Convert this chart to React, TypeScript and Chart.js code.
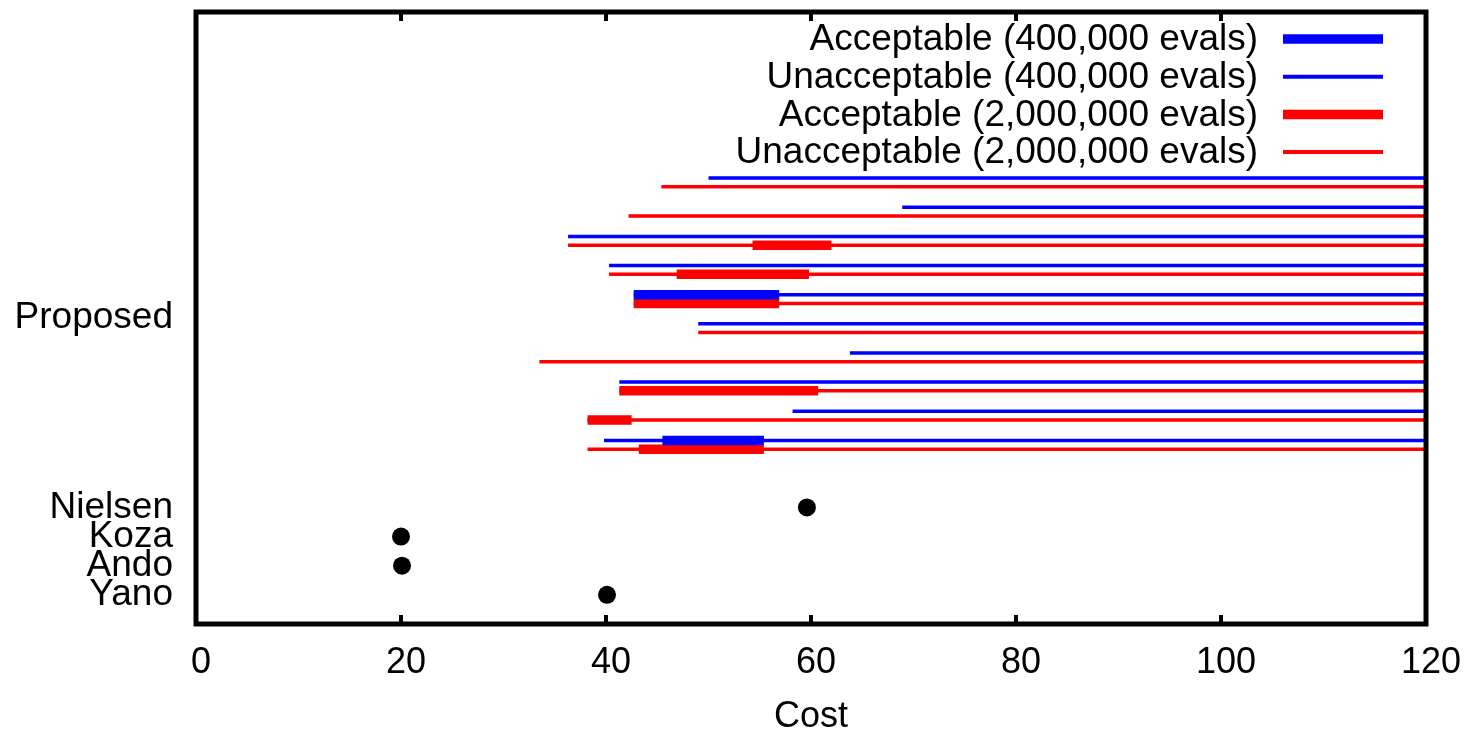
import React, { useEffect, useRef } from "react";
import { Chart, registerables } from "chart.js";

Chart.register(...registerables);

// ---- axis ranges & ticks ----
const xMin = 0;
const xMax = 120;
const xTickStep = 20;
const yMin = 0;
const yMax = 21;

// ---- reference methods (single points) ----
const referenceNames = ["Yano", "Ando", "Koza", "Nielsen"];
const referencePositions = [1, 2, 3, 4];
const referenceCosts = [40.1, 20.1, 20.0, 59.6];

// ---- proposed method: 10 runs, top to bottom ----
const proposedLabel = "Proposed";
const proposedLabelPosition = 10.5;
const runPositions = [15, 14, 13, 12, 11, 10, 9, 8, 7, 6];
const blueRowOffset = 0.3;
const unacceptableEnd = 120;

// 400,000 evals (blue)
const blueStart = [50.0, 68.9, 36.3, 40.3, 42.7, 49.0, 63.8, 41.3, 58.2, 39.8];
const blueAccLo = [null, null, null, null, 42.7, null, null, null, null, 45.5];
const blueAccHi = [null, null, null, null, 56.9, null, null, null, null, 55.4];

// 2,000,000 evals (red)
const redStart = [45.4, 42.2, 36.3, 40.3, 42.7, 49.0, 33.5, 41.3, 38.2, 38.2];
const redAccLo = [null, null, 54.3, 46.9, 42.7, null, null, 41.3, 38.2, 43.2];
const redAccHi = [null, null, 62.0, 59.8, 56.9, null, null, 60.7, 42.5, 55.4];

const legendLabels = [
  "Acceptable (400,000 evals)",
  "Unacceptable (400,000 evals)",
  "Acceptable (2,000,000 evals)",
  "Unacceptable (2,000,000 evals)",
];
const legendColors = ["#0000ff", "#0000ff", "#ff0000", "#ff0000"];
const legendThick = [true, false, true, false];

const FONT = '"Liberation Sans", Arial, Helvetica, sans-serif';
const THIN = 3.5;
const THICK = 9.5;

type Pt = { x: number; y: number | null };

function segments(
  starts: (number | null)[],
  ends: (number | null)[],
  ys: number[]
): Pt[] {
  const out: Pt[] = [];
  starts.forEach((s, i) => {
    const e = ends[i];
    if (s == null || e == null) return;
    out.push({ x: s, y: ys[i] });
    out.push({ x: e, y: ys[i] });
    out.push({ x: e, y: null });
  });
  return out;
}

const yTickValues = [...referencePositions, proposedLabelPosition];
const yTickLabels = [...referenceNames, proposedLabel];

const framePlugin = {
  id: "gnuplotFrame",
  afterDatasetsDraw(chart: any) {
    const { ctx, chartArea } = chart;
    const { left, right, top, bottom } = chartArea;
    const xs = chart.scales.x;
    ctx.save();
    ctx.strokeStyle = "#000";
    ctx.lineWidth = 4;
    ctx.beginPath();
    for (let v = xMin + xTickStep; v < xMax; v += xTickStep) {
      const px = xs.getPixelForValue(v);
      ctx.moveTo(px, bottom);
      ctx.lineTo(px, bottom - 9);
      ctx.moveTo(px, top);
      ctx.lineTo(px, top + 9);
    }
    ctx.stroke();
    ctx.lineWidth = 5;
    ctx.strokeRect(left, top, right - left, bottom - top);
    ctx.restore();
  },
  afterDraw(chart: any) {
    const { ctx, chartArea } = chart;
    const textRight = chartArea.right - 168;
    const lineStart = chartArea.right - 143;
    const lineEnd = chartArea.right - 43;
    ctx.save();
    ctx.font = `37px ${FONT}`;
    ctx.fillStyle = "#000";
    ctx.textAlign = "right";
    ctx.textBaseline = "middle";
    legendLabels.forEach((label, i) => {
      const y = chartArea.top + 27 + i * 37.7;
      ctx.fillText(label, textRight, y + 1);
      ctx.strokeStyle = legendColors[i];
      ctx.lineWidth = legendThick[i] ? THICK : 4;
      ctx.beginPath();
      ctx.moveTo(lineStart, y);
      ctx.lineTo(lineEnd, y);
      ctx.stroke();
    });
    ctx.restore();
  },
};

export default function App() {
  const canvasRef = useRef<HTMLCanvasElement | null>(null);

  useEffect(() => {
    if (!canvasRef.current) return;
    const blueYs = runPositions.map((p) => p + blueRowOffset);
    const redYs = runPositions;
    const unaccEnds = runPositions.map(() => unacceptableEnd);

    const lineDs = (label: string, data: Pt[], color: string, width: number, order: number) => ({
      label,
      data,
      showLine: true,
      borderColor: color,
      backgroundColor: color,
      borderWidth: width,
      pointRadius: 0,
      pointHoverRadius: 0,
      spanGaps: false,
      borderCapStyle: "butt",
      order,
    });

    const chart = new Chart(canvasRef.current, {
      type: "scatter",
      data: {
        datasets: [
          {
            label: "Published",
            data: referenceCosts.map((c, i) => ({ x: c, y: referencePositions[i] })),
            showLine: false,
            pointRadius: 9,
            pointHoverRadius: 9,
            pointBackgroundColor: "#000",
            pointBorderWidth: 0,
            order: 0,
          } as any,
          lineDs(legendLabels[0], segments(blueAccLo, blueAccHi, blueYs), "#0000ff", THICK, 1),
          lineDs(legendLabels[2], segments(redAccLo, redAccHi, redYs), "#ff0000", THICK, 1),
          lineDs(legendLabels[1], segments(blueStart, unaccEnds, blueYs), "#0000ff", THIN, 2),
          lineDs(legendLabels[3], segments(redStart, unaccEnds, redYs), "#ff0000", THIN, 2),
        ],
      },
      options: {
        animation: false,
        responsive: false,
        devicePixelRatio: 1,
        layout: { padding: { left: 0, right: 43, top: 12, bottom: 0 } },
        plugins: {
          legend: { display: false },
          tooltip: { enabled: false },
        },
        scales: {
          x: {
            type: "linear",
            min: xMin,
            max: xMax,
            grid: { display: false },
            border: { display: false },
            ticks: {
              stepSize: xTickStep,
              autoSkip: false,
              maxRotation: 0,
              color: "#000",
              font: { family: FONT, size: 36 },
              padding: 9,
              labelOffset: 5,
            },
            title: {
              display: true,
              text: "Cost",
              color: "#000",
              font: { family: FONT, size: 36, lineHeight: 0.8 },
              padding: 0,
            },
            afterFit(scale: any) {
              scale.height = 107;
              scale.paddingLeft = 0;
              scale.paddingRight = 0;
            },
          },
          y: {
            type: "linear",
            min: yMin,
            max: yMax,
            grid: { display: false },
            border: { display: false },
            afterBuildTicks(scale: any) {
              scale.ticks = yTickValues.map((value) => ({ value }));
            },
            ticks: {
              autoSkip: false,
              color: "#000",
              font: { family: FONT, size: 37 },
              padding: 15,
              callback: (v: any) => {
                const idx = yTickValues.indexOf(Number(v));
                return idx >= 0 ? yTickLabels[idx] : "";
              },
            },
            afterFit(scale: any) {
              scale.width = 196;
              scale.paddingTop = 0;
              scale.paddingBottom = 0;
            },
          },
        },
      } as any,
      plugins: [framePlugin],
    });
    return () => chart.destroy();
  }, []);

  return (
    <div style={{ position: "fixed", left: 0, top: 0, width: 1469, height: 731, background: "#fff" }}>
      <canvas ref={canvasRef} width={1469} height={731} style={{ display: "block" }} />
    </div>
  );
}
